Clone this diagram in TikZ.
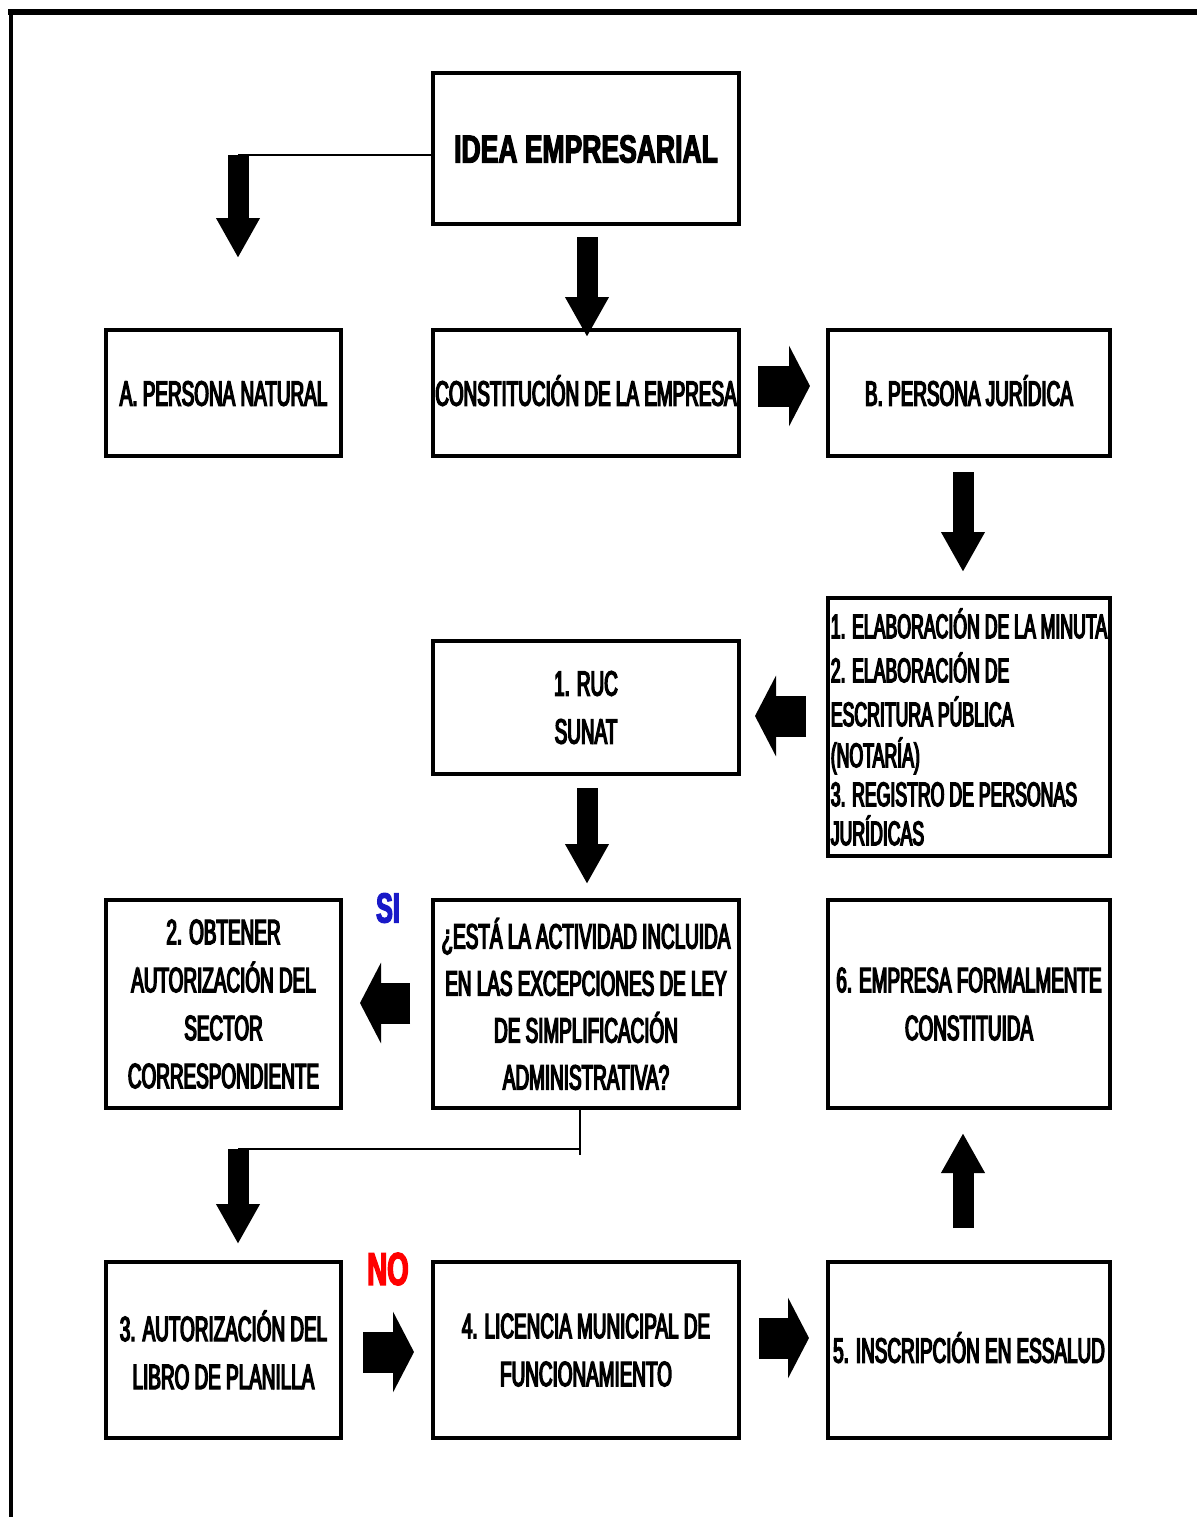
\documentclass[tikz,border=0pt]{standalone}
\usepackage{fontspec}
\usetikzlibrary{arrows.meta}
\newfontfamily\bxfont[FakeStretch=0.54,FakeBold=4]{Liberation Sans}
\newfontfamily\lstfont[FakeStretch=0.52,FakeBold=4]{Liberation Sans}
\newfontfamily\ttlfont[FakeStretch=0.68,FakeBold=3]{Liberation Sans}
\newfontfamily\lblfont[FakeStretch=0.6,FakeBold=3]{Liberation Sans}
\definecolor{siblue}{RGB}{25,25,200}
\definecolor{nored}{RGB}{255,0,0}
\begin{document}
\begin{tikzpicture}[x=0.5pt,y=-0.5pt,
  box/.style={draw, line width=1.8pt, inner sep=1pt, align=center,
    font=\bxfont\fontsize{17.5pt}{24pt}\selectfont},
  oneline/.style={text height=12.6pt, text depth=0pt},
  bigv/.style={line width=10.5pt, line cap=butt, -{Triangle[width=20.5pt,length=20pt]}},
  bigh/.style={line width=20.5pt, line cap=butt, -{Triangle[width=40pt,length=10.5pt]}},
  conn/.style={line width=1.4pt}]
\useasboundingbox (0,0) rectangle (1197,1517);
% outer frame
\draw[line width=3pt] (8,11.5) -- (1197,11.5);
\draw[line width=2pt] (11,10) -- (11,1517);

% boxes
\node[box, oneline, text height=14pt, minimum width=153pt, minimum height=75.5pt,
  font=\ttlfont\bfseries\fontsize{19.5pt}{24pt}\selectfont] (idea) at (586,148.5) {IDEA EMPRESARIAL};
\node[box, oneline, minimum width=117.5pt, minimum height=63pt] (pn) at (223.5,393) {A. PERSONA NATURAL};
\node[box, oneline, inner xsep=0pt, minimum width=153pt, minimum height=63pt] (ce) at (586,393) {CONSTITUCIÓN DE LA EMPRESA};
\node[box, oneline, minimum width=141pt, minimum height=63pt] (pj) at (969,393) {B. PERSONA JURÍDICA};
\node[box, inner xsep=0.5pt, minimum width=141pt, minimum height=129pt, align=left,
  font=\lstfont\fontsize{17pt}{19.5pt}\selectfont] (lst) at (969,727)
  {1. ELABORACIÓN DE LA MINUTA\\[2.5pt] 2. ELABORACIÓN DE\\[2.5pt] ESCRITURA PÚBLICA\\[1pt] (NOTARÍA)\\ 3. REGISTRO DE PERSONAS\\ JURÍDICAS};
\node[box, minimum width=153pt, minimum height=66.5pt] (ruc) at (586,707.5) {1. RUC\\ SUNAT};
\node[box, minimum width=117.5pt, minimum height=104pt] (obt) at (223.5,1004)
  {2. OBTENER\\ AUTORIZACIÓN DEL\\ SECTOR\\ CORRESPONDIENTE};
\node[box, minimum width=153pt, minimum height=104pt,
  font=\bxfont\fontsize{17.5pt}{23.5pt}\selectfont] (q) at (586,1004)
  {¿ESTÁ LA ACTIVIDAD INCLUIDA\\ EN LAS EXCEPCIONES DE LEY\\ DE SIMPLIFICACIÓN\\ ADMINISTRATIVA?};
\node[box, minimum width=141pt, minimum height=104pt] (emp) at (969,1004)
  {6. EMPRESA FORMALMENTE\\ CONSTITUIDA};
\node[box, minimum width=117.5pt, minimum height=88pt] (lib) at (223.5,1350)
  {3. AUTORIZACIÓN DEL\\ LIBRO DE PLANILLA};
\node[box, minimum width=153pt, minimum height=88pt] (lic) at (586,1350)
  {4. LICENCIA MUNICIPAL DE\\ FUNCIONAMIENTO};
\node[box, oneline, minimum width=141pt, minimum height=88pt] (ess) at (969,1350)
  {5. INSCRIPCIÓN EN ESSALUD};

% labels
\node[font=\lblfont\bfseries\fontsize{21pt}{21pt}\selectfont, text=siblue, inner sep=0pt] (si) at (388,908) {SI};
\node[font=\lblfont\bfseries\fontsize{23pt}{23pt}\selectfont, text=nored, inner sep=0pt] (no) at (388,1269) {NO};

% connector coordinates
\coordinate (ja) at (238,155);
\coordinate (a1e) at (238,258);
\coordinate (a2s) at (587,237);
\coordinate (a2e) at (587,337);
\coordinate (a3s) at (758,386);
\coordinate (a3e) at (810,386);
\coordinate (a4s) at (963,472);
\coordinate (a4e) at (963,572);
\coordinate (a5s) at (806,716);
\coordinate (a5e) at (755,716);
\coordinate (a6s) at (587,788);
\coordinate (a6e) at (587,884);
\coordinate (a7s) at (410,1003);
\coordinate (a7e) at (360,1003);
\coordinate (qb) at (580,1149);
\coordinate (qc) at (238,1149);
\coordinate (a8e) at (238,1244);
\coordinate (a9s) at (363,1352);
\coordinate (a9e) at (414,1352);
\coordinate (a10s) at (759,1338);
\coordinate (a10e) at (809,1338);
\coordinate (a11s) at (963,1228);
\coordinate (a11e) at (963,1133);

% connectors
\draw[conn] (ja -| idea.west) -- (ja);
\draw[bigv] (ja) -- (a1e);
\draw[bigv] (a2s) -- (a2e);
\draw[bigh] (a3s) -- (a3e);
\draw[bigv] (a4s) -- (a4e);
\draw[bigh] (a5s) -- (a5e);
\draw[bigv] (a6s) -- (a6e);
\draw[bigh] (a7s) -- (a7e);
\draw[conn] (q.south -| qb) -- ([yshift=-3pt]qb) (qb) -- (qc);
\draw[bigv] (qc) -- (a8e);
\draw[bigh] (a9s) -- (a9e);
\draw[bigh] (a10s) -- (a10e);
\draw[bigv] (a11s) -- (a11e);
\end{tikzpicture}
\end{document}
